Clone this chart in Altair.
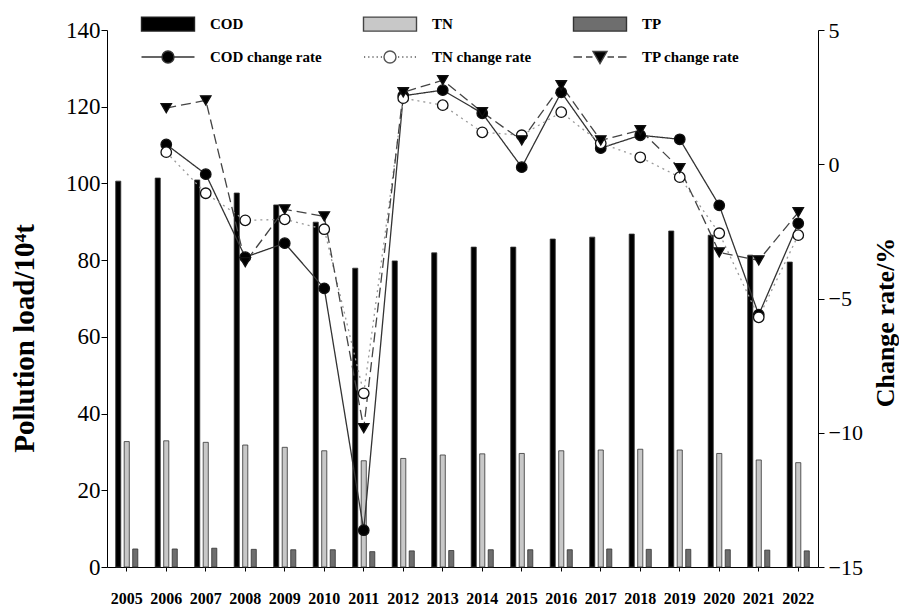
import altair as alt
import pandas as pd

years = list(range(2005, 2023))
cod = [100.6, 101.4, 100.9, 97.5, 94.4, 89.9, 77.9, 79.8, 81.9, 83.4, 83.4, 85.5, 86.0, 86.8, 87.6, 86.5, 81.3, 79.5]
tn = [32.7, 32.9, 32.5, 31.8, 31.2, 30.3, 27.7, 28.3, 29.2, 29.5, 29.6, 30.3, 30.5, 30.7, 30.5, 29.6, 27.9, 27.2]
tp = [4.7, 4.7, 4.9, 4.6, 4.5, 4.5, 4.0, 4.2, 4.3, 4.5, 4.5, 4.5, 4.7, 4.6, 4.6, 4.5, 4.4, 4.2]

rate_years = years[1:]
cod_rate = [0.74, -0.37, -3.46, -2.94, -4.62, -13.63, 2.55, 2.76, 1.90, -0.11, 2.68, 0.60, 1.08, 0.93, -1.53, -5.6, -2.2]
tn_rate = [0.45, -1.08, -2.09, -2.05, -2.42, -8.53, 2.46, 2.2, 1.19, 1.08, 1.94, 0.78, 0.26, -0.48, -2.57, -5.7, -2.64]
tp_rate = [2.09, 2.38, -3.65, -1.68, -1.94, -9.83, 2.68, 3.13, 1.94, 0.89, 2.94, 0.89, 1.27, -0.15, -3.28, -3.58, -1.79]

bar_series = ["COD", "TN", "TP"]
rate_series = ["COD change rate", "TN change rate", "TP change rate"]
# legend order (filled column by column): COD / COD change rate, TN / TN change rate, TP / TP change rate
legend_order = ["COD", "COD change rate", "TN", "TN change rate", "TP", "TP change rate"]
fill_colors = {"COD": "#000000", "TN": "#c8c8c8", "TP": "#6e6e6e",
               "COD change rate": "#000000", "TN change rate": "#ffffff", "TP change rate": "#000000"}

bars_df = pd.DataFrame(
    [{"year": y, "series": s, "value": v}
     for s, vals in zip(bar_series, [cod, tn, tp])
     for y, v in zip(years, vals)]
)
rates_df = pd.DataFrame(
    [{"year": y, "series": s, "value": v}
     for s, vals in zip(rate_series, [cod_rate, tn_rate, tp_rate])
     for y, v in zip(rate_years, vals)]
)

FONT = "Liberation Serif"

# ---- legend symbol paths (unit = 10 px with symbolSize 400) ----
def circle(r):
    return f"M{-r},0A{r},{r},0,1,1,{r},0A{r},{r},0,1,1,{-r},0Z"

rect_path = "M-2.65,-0.7H2.65V0.7H-2.65Z"
cod_path = "M-2.65,0H-0.6M0.6,0H2.65" + circle(0.6)
dots = ""
x = -2.6
while x < -0.75:
    dots += f"M{x:.2f},0h0.12"
    x += 0.42
x = 0.8
while x < 2.6:
    dots += f"M{x:.2f},0h0.12"
    x += 0.42
tn_path = dots + circle(0.6)
tp_path = "M-2.65,0H-1.8M-1.4,0H-0.75M0.75,0H1.4M1.8,0H2.65M-0.7,-0.55L0.7,-0.55L0,0.65Z"

shape_map = {"COD": rect_path, "TN": rect_path, "TP": rect_path,
             "COD change rate": cod_path, "TN change rate": tn_path, "TP change rate": tp_path}
stroke_map = {"COD": "#222", "TN": "#444", "TP": "#333",
              "COD change rate": "#333", "TN change rate": "#555", "TP change rate": "#444"}


def expr_of(mapping, default):
    e = f"'{default}'"
    for k, v in reversed(list(mapping.items())):
        e = f"datum.value === '{k}' ? '{v}' : ({e})"
    return e


legend = alt.Legend(
    title=None, orient="none", legendX=50, legendY=-17, columns=3, direction="vertical",
    symbolSize=400, symbolStrokeWidth=1.4, symbolOpacity=1,
    symbolType=alt.ExprRef(expr=expr_of(shape_map, "square")),
    symbolStrokeColor=alt.ExprRef(expr=expr_of(stroke_map, "#000")),
    labelFont=FONT, labelFontSize=15, labelFontWeight="bold", labelColor="black",
    labelOffset=31, columnPadding=38, rowPadding=12, padding=0,
)

fill_scale = alt.Scale(domain=legend_order, range=[fill_colors[s] for s in legend_order])

x_axis = alt.Axis(title=None, labelAngle=0, labelFont=FONT, labelFontSize=16, labelFontWeight="bold",
                  labelPadding=19, tickSize=4, domainColor="black", tickColor="black", labelColor="black")
x_scale = alt.Scale(paddingInner=0.44, paddingOuter=0.22)

bars = alt.Chart(bars_df).mark_bar(stroke="#333", strokeWidth=0.8).encode(
    x=alt.X("year:O", scale=x_scale, axis=x_axis),
    xOffset=alt.XOffset("series:N", sort=bar_series, scale=alt.Scale(paddingInner=0.4, paddingOuter=0)),
    y=alt.Y("value:Q", scale=alt.Scale(domain=[0, 140], nice=False),
            axis=alt.Axis(values=[0, 20, 40, 60, 80, 100, 120, 140], title="Pollution load/10⁴t",
                          orient="left", labelFont=FONT, labelFontSize=23, tickSize=6, labelPadding=1,
                          titleFont=FONT, titleFontSize=29, titleFontWeight="bold",
                          titleAngle=270, titleX=-83, titleY=308, titleBaseline="middle", titleAlign="center",
                          domainColor="black", tickColor="black", labelColor="black", titleColor="black")),
    fill=alt.Fill("series:N", scale=fill_scale, legend=legend),
)

rate_y = alt.Y("value:Q", scale=alt.Scale(domain=[-15, 5], nice=False),
               axis=alt.Axis(values=[-15, -10, -5, 0, 5], title="Change rate/%", orient="right",
                             labelFont=FONT, labelFontSize=22, tickSize=6, labelPadding=4,
                             titleFont=FONT, titleFontSize=26, titleFontWeight="bold",
                             titleAngle=270, titleX=67, titleY=292, titleBaseline="middle", titleAlign="center",
                             domainColor="black", tickColor="black", labelColor="black", titleColor="black"))

lines = alt.Chart(rates_df).mark_line(strokeWidth=1.3).encode(
    x=alt.X("year:O", scale=x_scale, axis=x_axis),
    y=rate_y,
    stroke=alt.Stroke("series:N", scale=alt.Scale(domain=rate_series, range=["#333333", "#9a9a9a", "#444444"]),
                      legend=None),
    strokeDash=alt.StrokeDash("series:N", scale=alt.Scale(domain=rate_series, range=[[1, 0], [2, 4], [10, 5]]),
                              legend=None),
    detail="series:N",
)

points = alt.Chart(rates_df).mark_point(filled=True, size=110, stroke="#111", strokeWidth=1.3, opacity=1).encode(
    x=alt.X("year:O", scale=x_scale, axis=x_axis),
    y=rate_y,
    fill=alt.Fill("series:N", scale=fill_scale, legend=legend),
    shape=alt.Shape("series:N", scale=alt.Scale(domain=rate_series, range=["circle", "circle", "triangle-down"]),
                    legend=None),
)

chart = alt.layer(bars, alt.layer(lines, points)).resolve_scale(y="independent").properties(
    width=711, height=537,
    autosize=alt.AutoSizeParams(type="none"),
    padding={"left": 99, "top": 22, "right": 81, "bottom": 41},
).configure_view(stroke=None).configure_axis(grid=False)

chart.save("out.html", embed_options={"renderer": "svg", "actions": False})
